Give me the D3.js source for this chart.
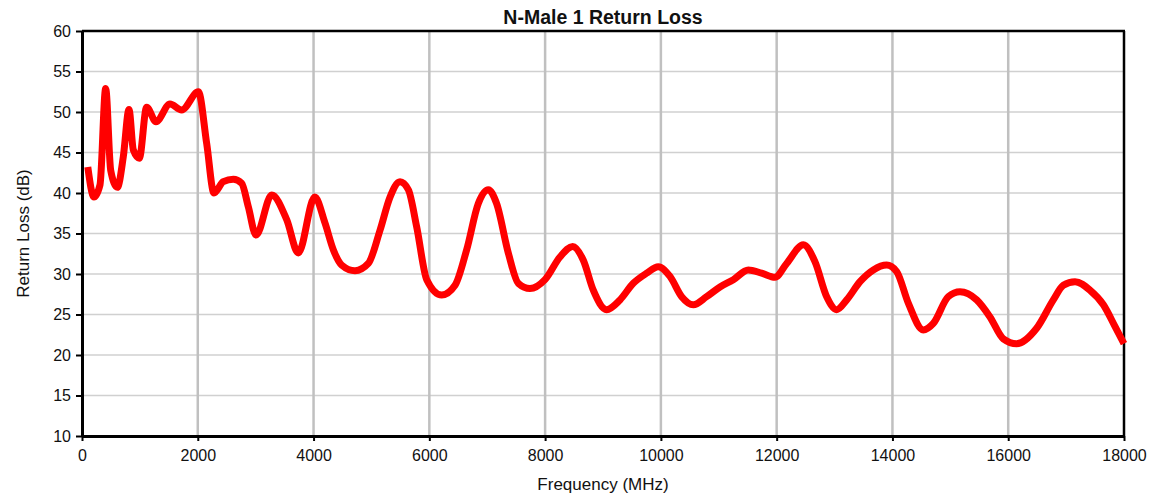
<!DOCTYPE html>
<html><head><meta charset="utf-8">
<script src="https://cdn.jsdelivr.net/npm/d3@7"></script>
<style>body{margin:0;background:#fff;}svg{display:block;font-family:"Liberation Sans",Arial,sans-serif;}</style>
</head><body><svg id="c" width="1154" height="499"></svg>
<script>
const title = "N-Male 1 Return Loss";
const xLabel = "Frequency (MHz)";
const yLabel = "Return Loss (dB)";
const xTicks = [0,2000,4000,6000,8000,10000,12000,14000,16000,18000];
const yTicks = [10,15,20,25,30,35,40,45,50,55,60];
const freq = [100,207,311,409,496,610,714,812,887,990,1117,1278,1520,1722,2010,2154,2280,2441,2614,2758,2873,3006,3277,3536,3737,4020,4197,4341,4486,4716,4946,5148,5321,5494,5638,5782,5955,6214,6444,6645,6846,7018,7162,7364,7537,7739,7998,8257,8476,8660,8832,9063,9293,9523,9754,9955,10157,10359,10560,10790,11021,11252,11510,11741,11971,12173,12461,12663,12864,13037,13210,13440,13670,13900,14073,14274,14533,14706,14965,15167,15455,15685,15915,16145,16491,16779,16952,17154,17413,17644,17846,18000];
const returnLoss = [43.2,39.5,41.0,52.9,42.8,40.7,44.5,50.3,45.3,44.3,50.6,48.8,51.0,50.25,52.5,46.1,40.0,41.4,41.7,41.2,38.3,34.8,39.75,36.7,32.6,39.5,36.3,33.0,31.1,30.4,31.3,35.4,39.5,41.4,40.4,35.8,29.3,27.4,28.6,33.0,38.7,40.4,38.7,32.6,28.85,28.2,29.3,32.1,33.4,31.7,28.0,25.6,26.8,28.85,30.1,30.9,29.7,27.2,26.2,27.2,28.4,29.3,30.5,30.1,29.6,31.3,33.6,31.5,27.2,25.6,26.8,29.05,30.5,31.1,30.3,26.4,23.1,23.9,27.2,27.8,26.8,24.7,22.0,21.4,23.3,26.8,28.6,29.05,28.0,26.2,23.5,21.4];

const data = freq.map((f,i)=>({f, v:returnLoss[i]}));
const svg = d3.select("#c");
const L=82, R=1124, T=31, B=436;
const x = d3.scaleLinear().domain([0,18000]).range([L,R]);
const y = d3.scaleLinear().domain([10,60]).range([B,T]);

// horizontal gridlines
svg.append("g").selectAll("line").data(yTicks.filter(d=>d>10&&d<60)).join("line")
  .attr("x1",L).attr("x2",R).attr("y1",d=>y(d)).attr("y2",d=>y(d))
  .attr("stroke","#d0d0d0").attr("stroke-width",1.5);
// vertical gridlines
svg.append("g").selectAll("line").data(xTicks.filter(d=>d>0&&d<18000)).join("line")
  .attr("y1",T).attr("y2",B).attr("x1",d=>x(d)).attr("x2",d=>x(d))
  .attr("stroke","#c0c0c0").attr("stroke-width",2.5);

// axes
const xAxis = svg.append("g").attr("transform",`translate(0,${B})`)
  .call(d3.axisBottom(x).tickValues(xTicks).tickFormat(d3.format("d")).tickSizeOuter(0).tickSizeInner(5).tickPadding(9));
const yAxis = svg.append("g").attr("transform",`translate(${L},0)`)
  .call(d3.axisLeft(y).tickValues(yTicks).tickSizeOuter(0).tickSizeInner(6).tickPadding(5));
[xAxis,yAxis].forEach(g=>{
  g.select(".domain").attr("stroke","#000").attr("stroke-width",3);
  g.selectAll(".tick line").attr("stroke","#000").attr("stroke-width",2);
  g.selectAll(".tick text").attr("font-size",16).attr("fill","#111").attr("font-family","Liberation Sans, Arial, sans-serif");
});
// top and right frame
svg.append("line").attr("x1",L).attr("x2",R+1).attr("y1",T).attr("y2",T).attr("stroke","#000").attr("stroke-width",2.5);
svg.append("line").attr("x1",R).attr("x2",R).attr("y1",T).attr("y2",B).attr("stroke","#000").attr("stroke-width",2.5);

// line
const line = d3.line().x(d=>x(d.f)).y(d=>y(d.v)).curve(d3.curveMonotoneX);
svg.append("path").datum(data).attr("d",line).attr("fill","none")
  .attr("stroke","#ff0000").attr("stroke-width",7).attr("stroke-linejoin","round").attr("stroke-linecap","butt");

// titles
svg.append("text").attr("x",(L+R)/2 + 0).attr("y",24).attr("text-anchor","middle")
  .attr("font-size",19.5).attr("font-weight","bold").attr("fill","#111").text(title);
svg.append("text").attr("x",(L+R)/2).attr("y",490).attr("text-anchor","middle")
  .attr("font-size",17).attr("fill","#111").text(xLabel);
svg.append("text").attr("transform",`translate(29,${(T+B)/2}) rotate(-90)`).attr("text-anchor","middle")
  .attr("font-size",17).attr("fill","#111").text(yLabel);
</script></body></html>
